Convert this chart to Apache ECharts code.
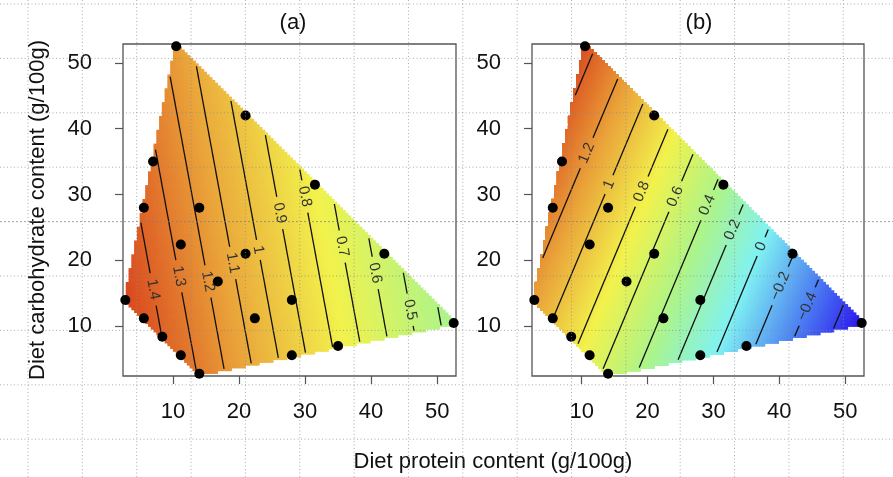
<!DOCTYPE html>
<html><head><meta charset="utf-8">
<script src="https://cdn.jsdelivr.net/npm/echarts@6/dist/echarts.min.js"></script>
<style>html,body{margin:0;padding:0;background:#fff}#c{width:893px;height:477px}</style>
</head><body><div id="c"></div>
<script>
// ---- data ----
// design points (protein, carbohydrate), g/100g
const proteinPts = [10.5, 21, 7, 31.5, 5.6, 14, 11.2, 21, 42, 16.8, 2.8, 28, 5.6, 22.4, 8.4, 35, 11.2, 28, 14, 52.5];
const carbPts    = [52.5, 42, 35, 31.5, 28, 28, 22.4, 21, 21, 16.8, 14, 14, 11.2, 11.2, 8.4, 7, 5.6, 5.6, 2.8, 10.5];
// fitted response surfaces estimated from contour positions: [intercept, protein, carbohydrate]
const surfaceA = [1.632, -0.02348, -0.00432];
const surfaceB = [1.035, -0.037, 0.0155];
// contour levels
const levelsA = [1.4, 1.3, 1.2, 1.1, 1.0, 0.9, 0.8, 0.7, 0.6, 0.5, 0.4];
const levelsB = [1.4, 1.2, 1.0, 0.8, 0.6, 0.4, 0.2, 0, -0.2, -0.4, -0.6];
const xTicks = [10, 20, 30, 40, 50];
const yTicks = [10, 20, 30, 40, 50];
const panelTitles = ['(a)', '(b)'];
const xName = 'Diet protein content (g/100g)';
const yName = 'Diet carbohydrate content (g/100g)';

// ---- layout (not data) ----
const AX_MIN = 2.45, AX_MAX = 52.85;
const labelAtY_A = [15.6, 17.6, 16.8, 19.6, 21.6, 27.2, 29.7, 22.1, 18.1, 12.5, null];
const labelAtY_B = [null, 36.3, 31.5, 30.45, 29.7, 28.4, 24.65, 22.1, 16.1, 13.0, null];
const FONT = "'Liberation Sans', Arial, Helvetica, sans-serif";

// convex hull of design points
function hull(xs, ys) {
  const p = xs.map((x, i) => [x, ys[i]]).sort((a, b) => a[0] - b[0] || a[1] - b[1]);
  const cr = (o, a, b) => (a[0] - o[0]) * (b[1] - o[1]) - (a[1] - o[1]) * (b[0] - o[0]);
  const lo = [], up = [];
  for (const q of p) { while (lo.length >= 2 && cr(lo[lo.length - 2], lo[lo.length - 1], q) <= 1e-9) lo.pop(); lo.push(q); }
  for (let i = p.length - 1; i >= 0; i--) { const q = p[i]; while (up.length >= 2 && cr(up[up.length - 2], up[up.length - 1], q) <= 1e-9) up.pop(); up.push(q); }
  lo.pop(); up.pop();
  return lo.concat(up); // CCW
}
const H = hull(proteinPts, carbPts);
function inside(x, y, tol) {
  for (let i = 0; i < H.length; i++) {
    const a = H[i], b = H[(i + 1) % H.length];
    const ex = b[0] - a[0], ey = b[1] - a[1];
    const d = (ex * (y - a[1]) - ey * (x - a[0])) / Math.hypot(ex, ey);
    if (d < -tol) return false;
  }
  return true;
}
const surf = (c, x, y) => c[0] + c[1] * x + c[2] * y;
const N = 120, STEP = (AX_MAX - AX_MIN) / N;
function cells(coef) {
  const out = [];
  for (let i = 0; i < N; i++) for (let j = 0; j < N; j++) {
    const x = AX_MIN + STEP * (i + 0.5), y = AX_MIN + STEP * (j + 0.5);
    if (inside(x, y, 0.3)) out.push([x, y, surf(coef, x, y)]);
  }
  return out;
}
function renderCell(params, api) {
  const x = api.value(0), y = api.value(1), h = STEP / 2;
  const p0 = api.coord([x - h, y + h]), p1 = api.coord([x + h, y - h]);
  return { type: 'rect', shape: { x: p0[0], y: p0[1], width: p1[0] - p0[0] + 0.7, height: p1[1] - p0[1] + 0.7 },
    style: { fill: api.visual('color') } };
}
function textW(s, fs) {
  let w = 0; for (const ch of s) w += (ch === '.' ? 0.278 : ch === '\u2212' ? 0.584 : 0.556);
  return w * fs;
}
function makeContourRender(coef, labelYs) {
  return function (params, api) {
    const L = api.value(0), idx = params.dataIndex;
    const pts = [];
    for (let i = 0; i < H.length; i++) {
      const a = H[i], b = H[(i + 1) % H.length];
      const da = surf(coef, a[0], a[1]) - L, db = surf(coef, b[0], b[1]) - L;
      if ((da <= 0 && db > 0) || (da > 0 && db <= 0)) {
        const t = da / (da - db);
        pts.push([a[0] + t * (b[0] - a[0]), a[1] + t * (b[1] - a[1])]);
      }
    }
    if (pts.length < 2) return null;
    let A = api.coord(pts[0]), B = api.coord(pts[1]);
    if (B[0] < A[0]) { const t = A; A = B; B = t; }
    const len = Math.hypot(B[0] - A[0], B[1] - A[1]);
    const u = [(B[0] - A[0]) / len, (B[1] - A[1]) / len];
    const ls = { stroke: '#111', lineWidth: 1.3 };
    const ly = labelYs[idx];
    const children = [];
    if (ly == null) {
      children.push({ type: 'line', shape: { x1: A[0], y1: A[1], x2: B[0], y2: B[1] }, style: ls });
    } else {
      const lx = (L - coef[0] - coef[2] * ly) / coef[1];
      const P = api.coord([lx, ly]);
      const s = (P[0] - A[0]) * u[0] + (P[1] - A[1]) * u[1];
      const txt = (L < 0 ? '\u2212' : '') + String(Math.abs(L));
      const gap = textW(txt, 15) / 2 + 6;
      if (s - gap > 0) children.push({ type: 'line', shape: { x1: A[0], y1: A[1], x2: A[0] + u[0] * (s - gap), y2: A[1] + u[1] * (s - gap) }, style: ls });
      if (s + gap < len) children.push({ type: 'line', shape: { x1: A[0] + u[0] * (s + gap), y1: A[1] + u[1] * (s + gap), x2: B[0], y2: B[1] }, style: ls });
      children.push({ type: 'text', x: P[0], y: P[1], rotation: -Math.atan2(u[1], u[0]),
        style: { text: txt, fontSize: 15, fontFamily: FONT, fill: '#333', align: 'center', verticalAlign: 'middle' } });
    }
    return { type: 'group', children };
  };
}

const grids = [
  { left: 123, top: 44, width: 333, height: 332 },
  { left: 532, top: 44, width: 332, height: 332 }
].map(g => Object.assign(g, { show: true, borderColor: '#555', borderWidth: 1.3, backgroundColor: 'transparent', outerBoundsMode: 'none', containLabel: false }));

function xAx(gi) {
  return { type: 'value', gridIndex: gi, min: AX_MIN, max: AX_MAX,
    axisLine: { show: false }, splitLine: { show: false },
    axisTick: { show: true, length: 8, inside: false, customValues: xTicks, lineStyle: { color: '#555', width: 1.2 } },
    axisLabel: { customValues: xTicks, fontSize: 22, color: '#111', margin: 25, fontFamily: FONT } };
}
function yAx(gi) {
  return { type: 'value', gridIndex: gi, min: AX_MIN, max: AX_MAX,
    axisLine: { show: false }, splitLine: { show: false },
    axisTick: { show: true, length: 8, inside: false, customValues: yTicks, lineStyle: { color: '#555', width: 1.2 } },
    axisLabel: { customValues: yTicks, fontSize: 22, color: '#111', margin: 31, fontFamily: FONT } };
}

function panelSeries(gi, coef, levels, labelYs) {
  return [
    { type: 'custom', xAxisIndex: gi, yAxisIndex: gi, data: cells(coef), renderItem: renderCell,
      encode: { x: 0, y: 1 }, clip: true, z: 1, silent: true },
    { type: 'custom', xAxisIndex: gi, yAxisIndex: gi, data: levels.map(l => [l]), renderItem: makeContourRender(coef, labelYs),
      clip: true, z: 3, silent: true },
    { type: 'scatter', xAxisIndex: gi, yAxisIndex: gi, data: proteinPts.map((x, i) => [x, carbPts[i]]),
      symbol: 'circle', symbolSize: 10, itemStyle: { color: '#000', opacity: 1 }, z: 5, silent: true, clip: false }
  ];
}

// decorative dotted page grid
const gfx = [];
for (let k = 0; k < 17; k++) {
  const x = 28 + 54.35 * k; if (x > 893) break;
  gfx.push({ type: 'line', z: 100, silent: true, shape: { x1: x, y1: 0, x2: x, y2: 477 }, style: { stroke: '#8a8a8a', lineWidth: 1, lineDash: [1, 2.5], opacity: 0.7 } });
}
for (let k = 0; k < 9; k++) {
  const y = 4 + 54.4 * k;
  const dark = k === 4;
  gfx.push({ type: 'line', z: 100, silent: true, shape: { x1: 0, y1: y, x2: 893, y2: y }, style: { stroke: dark ? '#7a7a7a' : '#8a8a8a', lineWidth: 1, lineDash: dark ? [2, 2] : [1, 2.5], opacity: 0.7 } });
}
gfx.push({ type: 'text', x: 293, y: 23, z: 50, style: { text: panelTitles[0], fontSize: 22, fontFamily: FONT, fill: '#111', align: 'center', verticalAlign: 'middle' } });
gfx.push({ type: 'text', x: 699, y: 23, z: 50, style: { text: panelTitles[1], fontSize: 22, fontFamily: FONT, fill: '#111', align: 'center', verticalAlign: 'middle' } });
gfx.push({ type: 'text', x: 493, y: 462, z: 50, style: { text: xName, fontSize: 22, fontFamily: FONT, fill: '#111', align: 'center', verticalAlign: 'middle' } });
gfx.push({ type: 'text', x: 38, y: 210, z: 50, rotation: Math.PI / 2, style: { text: yName, fontSize: 22, fontFamily: FONT, fill: '#111', align: 'center', verticalAlign: 'middle' } });

const chart = echarts.init(document.getElementById('c'), null, { renderer: 'canvas' });
chart.setOption({
  animation: false,
  backgroundColor: '#fff',
  grid: grids,
  xAxis: [xAx(0), xAx(1)],
  yAxis: [yAx(0), yAx(1)],
  visualMap: { show: false, type: 'continuous', min: -0.75, max: 1.51, dimension: 2, seriesIndex: [0, 3],
    inRange: { color: ['#2a14ee', '#4f86f2', '#80f2f2', '#aef488', '#f2f24c', '#eaa43a', '#d9461e'] } },
  series: panelSeries(0, surfaceA, levelsA, labelAtY_A).concat(panelSeries(1, surfaceB, levelsB, labelAtY_B)),
  graphic: gfx
});
</script></body></html>
